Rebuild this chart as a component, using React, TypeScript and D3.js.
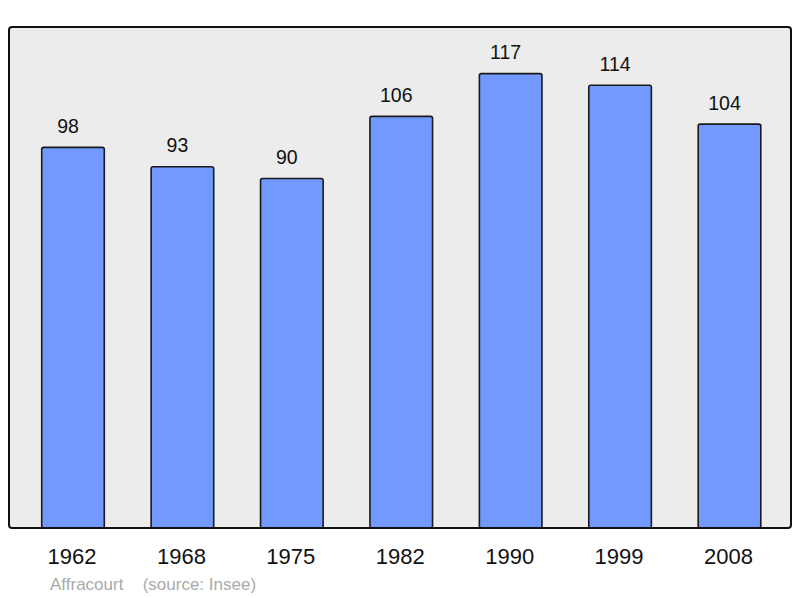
import { useEffect, useRef } from "react";
import * as d3 from "d3";

const years = ["1962", "1968", "1975", "1982", "1990", "1999", "2008"];
const population = [98, 93, 90, 106, 117, 114, 104];
const commune = "Affracourt";
const source = "(source: Insee)";

export default function App() {
  const svgRef = useRef<SVGSVGElement>(null);

  useEffect(() => {
    if (!svgRef.current) return;
    const svg = d3.select(svgRef.current);
    svg.selectAll("*").remove();

    const frame = { left: 9, top: 27, right: 791, bottom: 528 };
    const font = "'Liberation Sans', Arial, sans-serif";

    // Plot background
    svg
      .append("rect")
      .attr("x", frame.left)
      .attr("y", frame.top)
      .attr("width", frame.right - frame.left)
      .attr("height", frame.bottom - frame.top)
      .attr("rx", 3)
      .attr("fill", "#ececec");

    const xScale = d3
      .scaleBand<string>()
      .domain(years)
      .range([18.3, 784.2])
      .paddingInner(0.428)
      .paddingOuter(0.214);

    const yScale = d3
      .scaleLinear()
      .domain([0, 129])
      .range([frame.bottom, frame.top]);

    const g = svg.append("g");

    // Bars
    g.selectAll(".bar")
      .data(population)
      .enter()
      .append("rect")
      .attr("class", "bar")
      .attr("x", (_, i) => xScale(years[i]) as number)
      .attr("width", xScale.bandwidth())
      .attr("y", (d) => yScale(d))
      .attr("height", (d) => yScale(0) - yScale(d))
      .attr("rx", 2)
      .attr("fill", "#7199ff")
      .attr("stroke", "#1a1a1a")
      .attr("stroke-width", 1.6);

    // Value labels (sit a little left of the bar centre)
    g.selectAll(".value")
      .data(population)
      .enter()
      .append("text")
      .attr("class", "value")
      .attr("x", (_, i) => (xScale(years[i]) as number) + xScale.bandwidth() / 2 - 5)
      .attr("y", (d) => yScale(d) - 14.5)
      .attr("text-anchor", "middle")
      .style("font-family", font)
      .style("font-size", "19.5px")
      .style("fill", "#111")
      .text((d) => d);

    // Frame on top
    svg
      .append("rect")
      .attr("x", frame.left)
      .attr("y", frame.top)
      .attr("width", frame.right - frame.left)
      .attr("height", frame.bottom - frame.top)
      .attr("rx", 3)
      .attr("fill", "none")
      .attr("stroke", "#111")
      .attr("stroke-width", 2);

    // Year labels
    svg
      .selectAll(".year")
      .data(years)
      .enter()
      .append("text")
      .attr("class", "year")
      .attr("x", (d) => (xScale(d) as number) + xScale.bandwidth() / 2 - 1)
      .attr("y", 564)
      .attr("text-anchor", "middle")
      .style("font-family", font)
      .style("font-size", "22px")
      .style("fill", "#111")
      .text((d) => d);

    // Source line
    svg
      .append("text")
      .attr("x", 50)
      .attr("y", 590)
      .style("font-family", font)
      .style("font-size", "17px")
      .style("fill", "#aaaaaa")
      .text(commune);

    svg
      .append("text")
      .attr("x", 142.7)
      .attr("y", 590)
      .style("font-family", font)
      .style("font-size", "17px")
      .style("fill", "#aaaaaa")
      .text(source);
  }, []);

  return (
    <svg
      ref={svgRef}
      width="800"
      height="598"
      style={{ position: "absolute", left: 0, top: 0, background: "#fff" }}
    />
  );
}
